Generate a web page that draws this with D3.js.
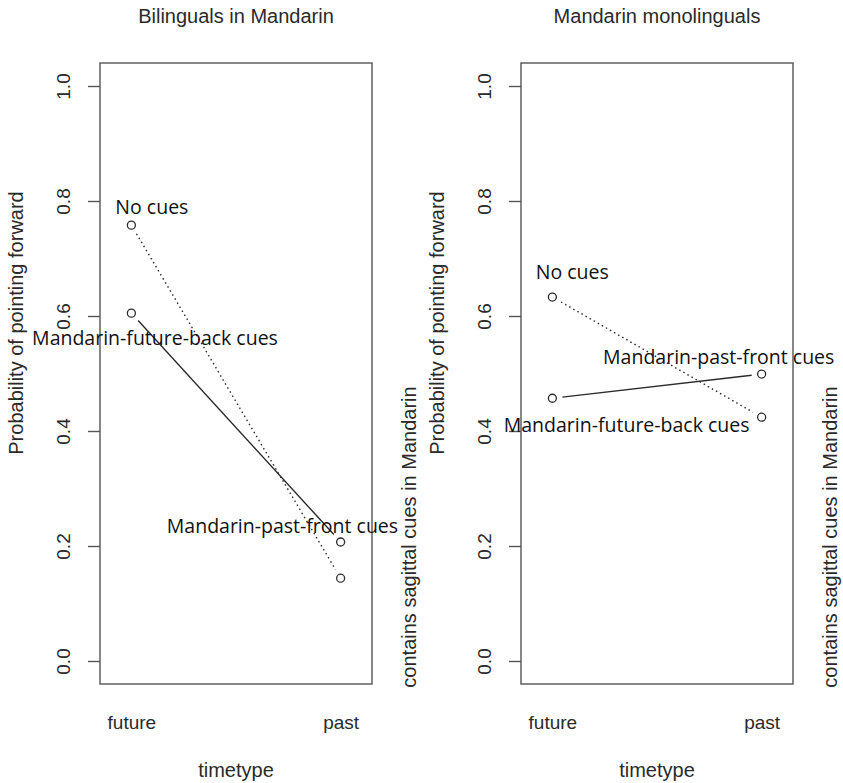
<!DOCTYPE html>
<html>
<head>
<meta charset="utf-8">
<script src="https://cdn.jsdelivr.net/npm/d3@7"></script>
<style>
  body { margin: 0; background: #fff; }
  svg { display: block; }
</style>
</head>
<body>
<svg id="chart" width="843" height="783"></svg>
<script>
// values
var timeTypes = ["future", "past"];
var panelTitles = ["Bilinguals in Mandarin", "Mandarin monolinguals"];
var yTicks = [0.0, 0.2, 0.4, 0.6, 0.8, 1.0];

var bilingualNoCues = [0.758, 0.144];
var bilingualSagittal = [0.605, 0.207];
var monolingualNoCues = [0.633, 0.424];
var monolingualSagittal = [0.457, 0.499];

var bilingualLabels = [
    {text: "No cues", x: 1.098, y: 0.79},
    {text: "Mandarin-future-back cues", x: 1.113, y: 0.561},
    {text: "Mandarin-past-front cues", x: 1.722, y: 0.234}
];
var monolingualLabels = [
    {text: "No cues", x: 1.095, y: 0.676},
    {text: "Mandarin-past-front cues", x: 1.795, y: 0.528},
    {text: "Mandarin-future-back cues", x: 1.355, y: 0.411}
];

var axisFont = "'Liberation Sans', Arial, sans-serif";
var labelFont = "'Open Sans', 'Noto Sans', sans-serif";
var ink = "#2a2a2a";

var svg = d3.select("#chart");

function drawPanel(left, title, noCues, sagittal, labels) {
    var box = {x0: left, x1: left + 272, y0: 63, y1: 684};

    var x = d3.scaleLinear().domain([0.85, 2.15]).range([box.x0, box.x1]);
    var y = d3.scaleLinear().domain([-0.04, 1.04]).range([box.y1, box.y0]);

    var g = svg.append("g").attr("class", "panel");

    // title
    g.append("text")
        .attr("x", (box.x0 + box.x1) / 2)
        .attr("y", 23)
        .attr("text-anchor", "middle")
        .attr("font-family", axisFont)
        .attr("font-size", 20)
        .attr("fill", ink)
        .text(title);

    // frame
    g.append("rect")
        .attr("x", box.x0).attr("y", box.y0)
        .attr("width", box.x1 - box.x0).attr("height", box.y1 - box.y0)
        .attr("fill", "none")
        .attr("stroke", "#555")
        .attr("stroke-width", 1.4);

    // y axis with rotated labels
    var yAxis = d3.axisLeft(y).tickValues(yTicks)
        .tickSize(12).tickPadding(0)
        .tickFormat(d3.format(".1f"));
    var ag = g.append("g")
        .attr("transform", "translate(" + box.x0 + ",0)")
        .call(yAxis);
    ag.select(".domain").remove();
    ag.selectAll(".tick line").attr("stroke", "#555").attr("stroke-width", 1.4);
    ag.selectAll(".tick text")
        .attr("x", null).attr("dy", null)
        .attr("transform", "translate(-30,0) rotate(-90)")
        .attr("text-anchor", "middle")
        .attr("font-family", axisFont)
        .attr("font-size", 19)
        .attr("fill", ink);

    // x axis: labels only
    var xAxis = d3.axisBottom(x).tickValues([1, 2])
        .tickSize(0).tickPadding(0)
        .tickFormat(function (d) { return timeTypes[d - 1]; });
    var xg = g.append("g")
        .attr("transform", "translate(0," + box.y1 + ")")
        .call(xAxis);
    xg.select(".domain").remove();
    xg.selectAll(".tick text")
        .attr("y", 45).attr("dy", null)
        .attr("font-family", axisFont)
        .attr("font-size", 19)
        .attr("fill", ink);

    g.append("text")
        .attr("x", (box.x0 + box.x1) / 2)
        .attr("y", 777)
        .attr("text-anchor", "middle")
        .attr("font-family", axisFont)
        .attr("font-size", 20)
        .attr("fill", ink)
        .text("timetype");

    // y title, and trace label on the right
    g.append("text")
        .attr("transform", "translate(" + (box.x0 - 77) + ",323) rotate(-90)")
        .attr("text-anchor", "middle")
        .attr("font-family", axisFont)
        .attr("font-size", 20)
        .attr("fill", ink)
        .text("Probability of pointing forward");

    g.append("text")
        .attr("transform", "translate(" + (box.x1 + 44) + ",537) rotate(-90)")
        .attr("text-anchor", "middle")
        .attr("font-family", axisFont)
        .attr("font-size", 20)
        .attr("fill", ink)
        .text("contains sagittal cues in Mandarin");

    // lines (type "b": gaps around points)
    var gap = 10;
    function seg(vals) {
        var ax = x(1), ay = y(vals[0]), bx = x(2), by = y(vals[1]);
        var dx = bx - ax, dy = by - ay, len = Math.sqrt(dx * dx + dy * dy);
        var ux = dx / len, uy = dy / len;
        return [[ax + ux * gap, ay + uy * gap], [bx - ux * gap, by - uy * gap]];
    }
    var series = [
        {vals: noCues, dash: "1.5,3.2"},
        {vals: sagittal, dash: null}
    ];
    series.forEach(function (s) {
        g.append("path")
            .attr("d", d3.line()(seg(s.vals)))
            .attr("fill", "none")
            .attr("stroke", ink)
            .attr("stroke-width", 1.4)
            .attr("stroke-dasharray", s.dash);
        g.selectAll(null)
            .data(s.vals)
            .enter()
            .append("circle")
            .attr("cx", function (d, i) { return x(i + 1); })
            .attr("cy", function (d) { return y(d); })
            .attr("r", 4)
            .attr("fill", "none")
            .attr("stroke", ink)
            .attr("stroke-width", 1.3);
    });

    // annotations
    g.selectAll(null)
        .data(labels)
        .enter()
        .append("text")
        .attr("x", function (d) { return x(d.x); })
        .attr("y", function (d) { return y(d.y); })
        .attr("dy", "0.35em")
        .attr("text-anchor", "middle")
        .attr("font-family", labelFont)
        .attr("font-size", 19.5)
        .attr("fill", "#111")
        .text(function (d) { return d.text; });
}

drawPanel(100, panelTitles[0], bilingualNoCues, bilingualSagittal, bilingualLabels);
drawPanel(521, panelTitles[1], monolingualNoCues, monolingualSagittal, monolingualLabels);
</script>
</body>
</html>
